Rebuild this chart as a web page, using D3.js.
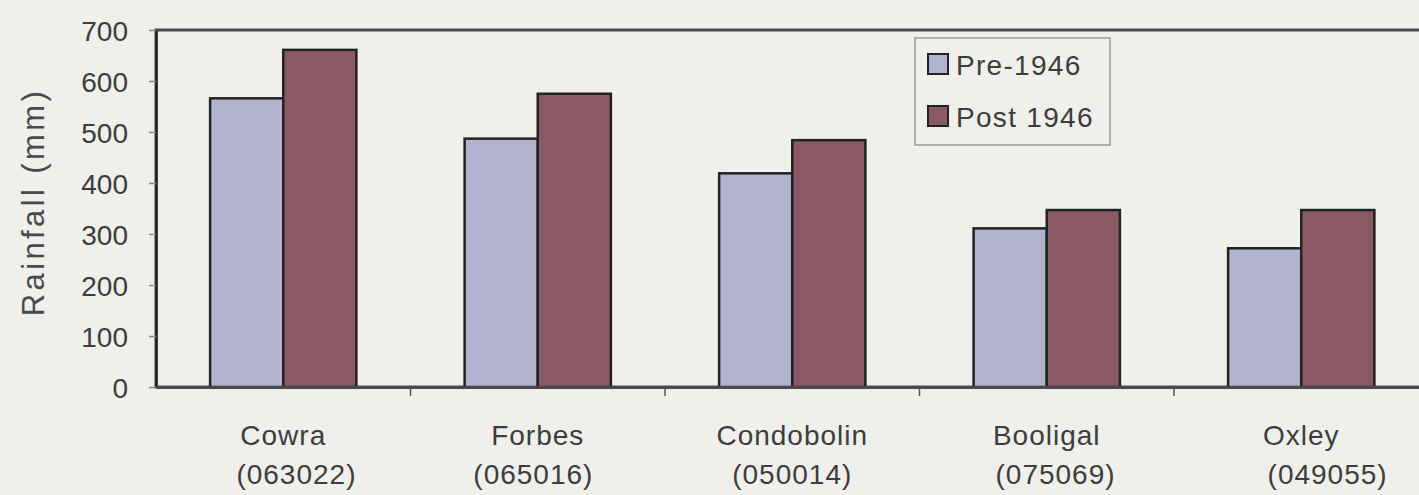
<!DOCTYPE html>
<html>
<head>
<meta charset="utf-8">
<script src="https://cdn.jsdelivr.net/npm/d3@7"></script>
<style>
  html, body { margin: 0; padding: 0; background: #efefeb; }
  svg { display: block; font-family: "Liberation Sans", Arial, sans-serif; }
  text { white-space: pre; }
</style>
</head>
<body>
<svg id="chart" width="1419" height="495"></svg>
<script>
// Mean rainfall at five stations, before and after 1946
const categories = ["Cowra", "Forbes", "Condobolin", "Booligal", "Oxley"];
const stationIds = ["   (063022)", "(065016) ", "(050014)", "  (075069)", "      (049055)"];
const series = ["Pre-1946", "Post 1946"];
const pre1946 = [566, 487, 419, 311, 272];
const post1946 = [661, 575, 484, 347, 347];
const yTicks = [0, 100, 200, 300, 400, 500, 600, 700];
const yTitle = "Rainfall (mm)";

const colors = { "Pre-1946": "#b3b3cf", "Post 1946": "#8b5866" };
const ink = "#3d3d3d";

const svg = d3.select("#chart");
const plot = { left: 156, right: 1428.5, top: 30, bottom: 387 };

svg.append("rect").attr("width", 1419).attr("height", 495).attr("fill", "#efefeb");

const x0 = d3.scaleBand().domain(categories).range([plot.left, plot.right]).padding(0);
const x1 = d3.scaleBand().domain(series).range([0, x0.bandwidth()])
  .paddingInner(0).paddingOuter(0.74);
const y = d3.scaleLinear().domain([0, 700]).range([plot.bottom, plot.top]);

const rows = categories.map((c, i) => ({
  cat: c, id: stationIds[i],
  values: [{ s: series[0], v: pre1946[i] }, { s: series[1], v: post1946[i] }]
}));

// plot frame
svg.append("rect")
  .attr("x", plot.left).attr("y", plot.top)
  .attr("width", plot.right - plot.left).attr("height", plot.bottom - plot.top)
  .attr("fill", "none").attr("stroke", "#4a4a4a").attr("stroke-width", 3);

// bars
const groups = svg.append("g").selectAll("g").data(rows).join("g")
  .attr("transform", d => `translate(${x0(d.cat)},0)`);
groups.selectAll("rect").data(d => d.values).join("rect")
  .attr("x", d => x1(d.s))
  .attr("y", d => y(d.v))
  .attr("width", x1.bandwidth())
  .attr("height", d => y(0) - y(d.v))
  .attr("fill", d => colors[d.s])
  .attr("stroke", "#222")
  .attr("stroke-width", 2.5);

// y axis
const yAxis = svg.append("g")
  .attr("transform", `translate(${plot.left},0)`)
  .call(d3.axisLeft(y).tickValues(yTicks).tickSizeInner(7).tickSizeOuter(0).tickPadding(21));
yAxis.select(".domain").attr("stroke", "#222").attr("stroke-width", 2.5);
yAxis.selectAll(".tick line").attr("stroke", "#8a8a8a").attr("stroke-width", 1.5);
yAxis.selectAll(".tick text")
  .attr("fill", ink).attr("font-size", 28).attr("dy", "0.36em")
  .style("font-family", "'Liberation Sans', Arial, sans-serif");
yAxis.attr("font-size", null);

// x axis: baseline, boundary ticks, two-line labels
const xAxis = svg.append("g")
  .attr("transform", `translate(0,${plot.bottom})`)
  .call(d3.axisBottom(x0).tickSize(0).tickFormat(() => ""));
xAxis.select(".domain").attr("stroke", "#4a4a4a").attr("stroke-width", 3);

xAxis.selectAll(".tick text").remove();
xAxis.selectAll(".tick").data(rows).each(function (d) {
  const g = d3.select(this);
  g.append("line")
    .attr("x1", x0.bandwidth() / 2).attr("x2", x0.bandwidth() / 2)
    .attr("y1", 0).attr("y2", 9)
    .attr("stroke", "#555").attr("stroke-width", 1.5);
  const t = g.append("text")
    .attr("text-anchor", "middle").attr("fill", ink)
    .attr("font-size", 28).attr("letter-spacing", 1)
    .style("font-family", "'Liberation Sans', Arial, sans-serif");
  t.append("tspan").attr("x", 0).attr("y", 58).text(d.cat);
  t.append("tspan").attr("x", 0).attr("y", 97).text(d.id);
});

// y axis title
svg.append("text")
  .attr("transform", "translate(44,202) rotate(-90)")
  .attr("text-anchor", "middle")
  .attr("fill", "#4a4a4a")
  .attr("font-size", 31)
  .attr("letter-spacing", 3.4)
  .text(yTitle);

// legend
const legend = svg.append("g").attr("transform", "translate(915,38)");
legend.append("rect")
  .attr("width", 195).attr("height", 107)
  .attr("fill", "#efefeb").attr("stroke", "#9a9a9a").attr("stroke-width", 1.5);
const items = legend.selectAll("g.item").data(series).join("g")
  .attr("class", "item")
  .attr("transform", (d, i) => `translate(13,${16 + i * 52})`);
items.append("rect")
  .attr("width", 20).attr("height", 20)
  .attr("fill", d => colors[d]).attr("stroke", "#222").attr("stroke-width", 2);
items.append("text")
  .attr("x", 28).attr("y", 21)
  .attr("fill", ink).attr("font-size", 28).attr("letter-spacing", 1.3)
  .text(d => d);
</script>
</body>
</html>
